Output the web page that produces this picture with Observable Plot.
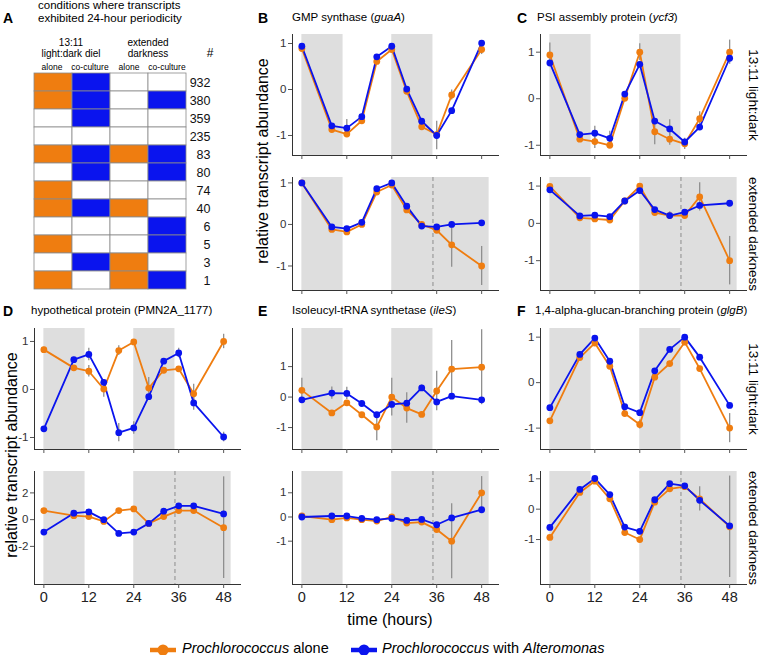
<!DOCTYPE html>
<html><head><meta charset="utf-8">
<script src="https://cdn.jsdelivr.net/npm/d3@7"></script>
<script src="https://cdn.jsdelivr.net/npm/@observablehq/plot@0.6"></script>
<style>
body{margin:0;background:#fff;font-family:"Liberation Sans",Arial,Helvetica,sans-serif;}
#fig{position:relative;width:760px;height:655px;overflow:hidden;background:#fff;color:#000}
.abs{position:absolute;white-space:nowrap;line-height:1}
.c{transform:translate(-50%,-50%)}
.rl{transform:translate(-50%,-50%) rotate(-90deg)}
.rr{transform:translate(-50%,-50%) rotate(90deg)}
.lt{font-weight:bold;font-size:14px}
.ti{font-size:11.5px}
</style></head><body><div id="fig"></div>
<script>
// ---------------- DATA ----------------
const hours = [0, 8, 12, 16, 20, 24, 28, 32, 36, 40, 48];
const darkLD = [[0, 11], [24, 35]];          // dark periods, 13:11 light:dark
const darkED = [[0, 11], [24, 50]];          // dark periods, extended darkness
const extendedDarkStart = 35;                // dashed line
const xTicks = [0, 12, 24, 36, 48];

// Panel A table
const tableColumns = ["LD alone", "LD co-culture", "ED alone", "ED co-culture"];
const tableColumnKind = ["alone", "co", "alone", "co"];
const tableCounts = [932, 380, 359, 235, 83, 80, 74, 40, 6, 5, 3, 1];
const tablePatterns = ["1100", "1101", "0100", "0000", "1111", "0101", "1000", "1110", "0001", "1001", "0110", "1011"];

// B: GMP synthase (guaA)
const guaA_LD_alone    = [0.89, -0.87, -0.97, -0.68, 0.61, 0.87, -0.04, -0.81, -0.98, -0.12, 0.87];
const guaA_LD_alone_se = [0.05, 0.05, 0.05, 0.05, 0.05, 0.05, 0.05, 0.08, 0.05, 0.11, 0.11];
const guaA_LD_co       = [0.94, -0.79, -0.84, -0.59, 0.71, 0.94, 0.01, -0.69, -1.0, -0.46, 1.01];
const guaA_LD_co_se    = [0.05, 0.05, 0.19, 0.05, 0.05, 0.05, 0.05, 0.05, 0.31, 0.05, 0.05];
const guaA_ED_alone    = [1.0, -0.12, -0.18, 0.0, 0.78, 0.95, 0.35, 0.0, -0.14, -0.49, -1.0];
const guaA_ED_alone_se = [0.05, 0.05, 0.05, 0.05, 0.05, 0.05, 0.05, 0.05, 0.08, 0.54, 0.47];
const guaA_ED_co       = [1.0, -0.06, -0.1, 0.05, 0.86, 1.0, 0.44, -0.04, -0.06, 0.0, 0.04];
const guaA_ED_co_se    = [0.05, 0.05, 0.05, 0.05, 0.05, 0.05, 0.05, 0.05, 0.05, 0.05, 0.05];

// C: PSI assembly protein (ycf3)
const ycf3_LD_alone    = [0.94, -0.87, -0.92, -1.0, 0.01, 1.0, -0.71, -0.87, -0.97, -0.43, 1.0];
const ycf3_LD_alone_se = [0.26, 0.05, 0.15, 0.05, 0.05, 0.18, 0.28, 0.13, 0.12, 0.15, 0.26];
const ycf3_LD_co       = [0.77, -0.77, -0.74, -0.85, 0.10, 0.74, -0.48, -0.65, -0.93, -0.61, 0.87];
const ycf3_LD_co_se    = [0.05, 0.05, 0.15, 0.15, 0.05, 0.05, 0.05, 0.2, 0.05, 0.05, 0.05];
const ycf3_ED_alone    = [0.99, 0.15, 0.12, 0.09, 0.6, 1.0, 0.29, 0.21, 0.21, 0.71, -1.0];
const ycf3_ED_alone_se = [0.05, 0.05, 0.05, 0.05, 0.05, 0.05, 0.05, 0.1, 0.05, 0.38, 0.65];
const ycf3_ED_co       = [0.9, 0.2, 0.22, 0.18, 0.6, 0.88, 0.37, 0.21, 0.3, 0.48, 0.54];
const ycf3_ED_co_se    = [0.05, 0.05, 0.05, 0.05, 0.05, 0.05, 0.05, 0.05, 0.05, 0.05, 0.05];

// D: hypothetical protein (PMN2A_1177)
const hyp_LD_alone    = [0.83, 0.45, 0.38, 0.01, 0.81, 0.99, 0.03, 0.4, 0.43, -0.09, 1.0];
const hyp_LD_alone_se = [0.05, 0.05, 0.12, 0.17, 0.1, 0.05, 0.22, 0.05, 0.05, 0.2, 0.15];
const hyp_LD_co       = [-0.82, 0.62, 0.73, 0.15, -0.9, -0.8, -0.15, 0.59, 0.76, -0.28, -0.99];
const hyp_LD_co_se    = [0.05, 0.05, 0.13, 0.05, 0.19, 0.13, 0.05, 0.05, 0.1, 0.15, 0.1];
const hyp_ED_alone    = [0.68, 0.3, 0.23, -0.13, 0.68, 0.8, -0.28, 0.23, 0.68, 0.68, -0.6];
const hyp_ED_alone_se = [0.1, 0.1, 0.1, 0.1, 0.1, 0.1, 0.1, 0.1, 0.1, 0.1, 3.8];
const hyp_ED_co       = [-0.93, 0.48, 0.58, 0.0, -1.03, -0.93, -0.28, 0.63, 1.03, 1.03, 0.43];
const hyp_ED_co_se    = [0.1, 0.1, 0.1, 0.1, 0.1, 0.1, 0.1, 0.1, 0.1, 0.1, 0.1];

// E: Isoleucyl-tRNA synthetase (ileS)
const ileS_LD_alone    = [0.22, -0.52, -0.19, -0.58, -0.98, 0.0, -0.36, -0.57, 0.2, 0.92, 0.98];
const ileS_LD_alone_se = [0.4, 0.05, 0.05, 0.05, 0.45, 0.62, 0.5, 0.05, 0.65, 0.94, 1.23];
const ileS_LD_co       = [-0.09, 0.13, 0.12, -0.21, -0.58, -0.24, -0.2, 0.3, -0.16, 0.03, -0.09];
const ileS_LD_co_se    = [0.05, 0.2, 0.2, 0.05, 0.05, 0.05, 0.05, 0.1, 0.05, 0.05, 0.05];
const ileS_ED_alone    = [0.04, -0.11, -0.04, -0.11, -0.17, 0.0, -0.25, -0.21, -0.52, -1.0, 1.0];
const ileS_ED_alone_se = [0.05, 0.05, 0.05, 0.05, 0.05, 0.05, 0.05, 0.05, 0.05, 1.55, 0.67];
const ileS_ED_co       = [0.0, 0.04, 0.04, -0.06, -0.11, -0.06, -0.14, -0.1, -0.32, -0.04, 0.3];
const ileS_ED_co_se    = [0.05, 0.05, 0.05, 0.05, 0.05, 0.05, 0.05, 0.05, 0.05, 0.05, 0.05];

// F: 1,4-alpha-glucan-branching protein (glgB)
const glgB_LD_alone    = [-0.84, 0.55, 0.87, 0.36, -0.68, -0.92, 0.12, 0.42, 0.89, 0.31, -1.0];
const glgB_LD_alone_se = [0.05, 0.05, 0.05, 0.05, 0.05, 0.1, 0.05, 0.05, 0.05, 0.05, 0.32];
const glgB_LD_co       = [-0.55, 0.62, 0.98, 0.47, -0.53, -0.66, 0.26, 0.73, 1.0, 0.56, -0.5];
const glgB_LD_co_se    = [0.05, 0.05, 0.05, 0.05, 0.05, 0.05, 0.05, 0.05, 0.05, 0.05, 0.05];
const glgB_ED_alone    = [-0.93, 0.55, 0.92, 0.34, -0.77, -1.0, 0.23, 0.67, 0.74, 0.34, -0.58];
const glgB_ED_alone_se = [0.05, 0.05, 0.05, 0.05, 0.05, 0.05, 0.05, 0.05, 0.05, 0.4, 1.67];
const glgB_ED_co       = [-0.6, 0.65, 1.01, 0.48, -0.59, -0.73, 0.31, 0.84, 0.77, 0.29, -0.55];
const glgB_ED_co_se    = [0.05, 0.05, 0.05, 0.05, 0.05, 0.05, 0.05, 0.05, 0.05, 0.05, 0.05];

// ---------------- STYLE / LAYOUT ----------------
const ORANGE = "#ef7d10", BLUE = "#0a14ee", BAND = "#dedede";
const FONT = '"Liberation Sans", Arial, Helvetica, sans-serif';
const fig = document.getElementById("fig");

function place(node, left, top) {
  const d = document.createElement("div");
  d.className = "abs";
  d.style.left = left + "px"; d.style.top = top + "px";
  d.appendChild(node);
  fig.appendChild(d);
  return d;
}
function label(html, x, y, cls, style) {
  const d = document.createElement("div");
  d.className = "abs " + (cls || "");
  d.style.left = x + "px"; d.style.top = y + "px";
  if (style) Object.assign(d.style, style);
  d.innerHTML = html;
  fig.appendChild(d);
  return d;
}

function series(vals, se, group) {
  return hours.map((h, i) => ({h, v: vals[i], lo: vals[i] - se[i], hi: vals[i] + se[i], group}));
}

function panel(cfg) {
  const ML = 30, MR = 4, MT = 2, MB = cfg.xl ? 28 : 8;
  const A = series(cfg.a, cfg.as, "alone");
  const C = series(cfg.c, cfg.cs, "co");
  const chart = Plot.plot({
    width: (cfg.R - cfg.L) + ML + MR,
    height: (cfg.B - cfg.T) + MT + MB,
    marginLeft: ML, marginRight: MR, marginTop: MT, marginBottom: MB,
    x: {domain: [-2.5, 52.5], label: null},
    y: {domain: cfg.yd, label: null},
    style: {fontFamily: FONT, background: "transparent", overflow: "visible", color: "#333"},
    marks: [
      Plot.rect(cfg.bands, {x1: d => d[0], x2: d => d[1], fill: BAND}),
      cfg.dashed != null ? Plot.ruleX([cfg.dashed], {stroke: "#9a9a9a", strokeWidth: 1.2, strokeDasharray: "4,3"}) : null,
      Plot.ruleX(A.concat(C), {x: "h", y1: "lo", y2: "hi", stroke: "#8f8f8f", strokeWidth: 1.3}),
      Plot.line(A, {x: "h", y: "v", stroke: ORANGE, strokeWidth: 1.8}),
      Plot.line(C, {x: "h", y: "v", stroke: BLUE, strokeWidth: 1.8}),
      Plot.dot(A, {x: "h", y: "v", fill: ORANGE, r: 3.4}),
      Plot.dot(C, {x: "h", y: "v", fill: BLUE, r: 3.4}),
      Plot.frame({anchor: "bottom", stroke: "#333", strokeWidth: 1}),
      Plot.frame({anchor: "left", stroke: "#333", strokeWidth: 1}),
      Plot.axisY({ticks: cfg.yt, label: null, tickSize: 4, tickPadding: 2, fontSize: 11.5, tickFormat: d => String(d), stroke: "#555", fill: "#333"}),
      Plot.axisX({ticks: xTicks, label: null, tickSize: 4, tickPadding: 3, fontSize: 14.5, tickFormat: cfg.xl ? (d => String(d)) : (() => ""), stroke: "#555", fill: "#222"})
    ]
  });
  place(chart, cfg.L - ML, cfg.T - MT);
}

const colBD = {L: 292, R: 498}, colCF = {L: 539.6, R: 745.6}, colD = {L: 33.6, R: 239.6};
const rowTop1 = {T: 34, B: 155}, rowBot1 = {T: 177, B: 290};
const rowTop2 = {T: 328, B: 449}, rowBot2 = {T: 471, B: 584};
const t3 = [-1, 0, 1];

const panels = [
  {...colBD, ...rowTop1, yd: [-1.435, 1.196], yt: t3, bands: darkLD, a: guaA_LD_alone, as: guaA_LD_alone_se, c: guaA_LD_co, cs: guaA_LD_co_se},
  {...colBD, ...rowBot1, yd: [-1.59, 1.13], yt: t3, bands: darkED, dashed: extendedDarkStart, a: guaA_ED_alone, as: guaA_ED_alone_se, c: guaA_ED_co, cs: guaA_ED_co_se},
  {...colCF, ...rowTop1, yd: [-1.22, 1.38], yt: t3, bands: darkLD, a: ycf3_LD_alone, as: ycf3_LD_alone_se, c: ycf3_LD_co, cs: ycf3_LD_co_se},
  {...colCF, ...rowBot1, yd: [-1.80, 1.23], yt: t3, bands: darkED, dashed: extendedDarkStart, a: ycf3_ED_alone, as: ycf3_ED_alone_se, c: ycf3_ED_co, cs: ycf3_ED_co_se},
  {...colD, ...rowTop2, yd: [-1.25, 1.27], yt: t3, bands: darkLD, a: hyp_LD_alone, as: hyp_LD_alone_se, c: hyp_LD_co, cs: hyp_LD_co_se},
  {...colD, ...rowBot2, yd: [-4.85, 3.6], yt: [-2, 0, 2], bands: darkED, dashed: extendedDarkStart, xl: true, a: hyp_ED_alone, as: hyp_ED_alone_se, c: hyp_ED_co, cs: hyp_ED_co_se},
  {...colBD, ...rowTop2, yd: [-1.72, 2.25], yt: t3, bands: darkLD, a: ileS_LD_alone, as: ileS_LD_alone_se, c: ileS_LD_co, cs: ileS_LD_co_se},
  {...colBD, ...rowBot2, yd: [-2.79, 1.88], yt: t3, bands: darkED, dashed: extendedDarkStart, xl: true, a: ileS_ED_alone, as: ileS_ED_alone_se, c: ileS_ED_co, cs: ileS_ED_co_se},
  {...colCF, ...rowTop2, yd: [-1.47, 1.19], yt: t3, bands: darkLD, a: glgB_LD_alone, as: glgB_LD_alone_se, c: glgB_LD_co, cs: glgB_LD_co_se},
  {...colCF, ...rowBot2, yd: [-2.48, 1.24], yt: t3, bands: darkED, dashed: extendedDarkStart, xl: true, a: glgB_ED_alone, as: glgB_ED_alone_se, c: glgB_ED_co, cs: glgB_ED_co_se}
];
panels.forEach(panel);

// ---------------- PANEL A TABLE ----------------
(function () {
  const cells = [];
  tablePatterns.forEach((p, r) => {
    tableColumns.forEach((col, c) => {
      const on = p[c] === "1";
      cells.push({row: r, col, fill: on ? (tableColumnKind[c] === "alone" ? ORANGE : BLUE) : "white"});
    });
  });
  const rows = tableCounts.map((n, r) => ({row: r, n}));
  const ML = 1, MR = 46, MT = 1, MB = 1;
  const chart = Plot.plot({
    width: 155 + ML + MR, height: 217 + MT + MB,
    marginLeft: ML, marginRight: MR, marginTop: MT, marginBottom: MB,
    x: {domain: tableColumns, padding: 0, axis: null},
    y: {domain: d3.range(tableCounts.length), padding: 0, axis: null},
    color: {type: "identity"},
    style: {fontFamily: FONT, background: "transparent", overflow: "visible"},
    marks: [
      Plot.cell(cells, {x: "col", y: "row", fill: "fill", stroke: "#8a8a8a", strokeWidth: 0.8}),
      Plot.text(rows, {y: "row", text: d => String(d.n), frameAnchor: "right", dx: 23, fontSize: 12.5, fill: "#111"})
    ]
  });
  place(chart, 32 - ML, 72 - MT);
})();

// ---------------- TEXT ----------------
label("A", 3, 11, "lt");
label("B", 258, 11, "lt");
label("C", 517, 11, "lt");
label("D", 3, 304, "lt");
label("E", 258, 304, "lt");
label("F", 517, 304, "lt");

label("conditions where transcripts", 38, 0, "ti");
label("exhibited 24-hour periodicity", 38, 12.5, "ti");
label("13:11", 71, 43, "c", {fontSize: "10px"});
label("light:dark diel", 71, 54, "c", {fontSize: "10px"});
label("extended", 148, 43, "c", {fontSize: "10px"});
label("darkness", 148, 54, "c", {fontSize: "10px"});
label("alone", 52, 67, "c", {fontSize: "8.5px"});
label("co-culture", 90, 67, "c", {fontSize: "8.5px"});
label("alone", 129, 67, "c", {fontSize: "8.5px"});
label("co-culture", 167, 67, "c", {fontSize: "8.5px"});
label("#", 210, 53, "c", {fontSize: "12px"});

label("GMP synthase (<i>guaA</i>)", 292, 12, "ti");
label("PSI assembly protein (<i>ycf3</i>)", 537, 12, "ti");
label("hypothetical protein (PMN2A_1177)", 31, 305, "ti");
label("Isoleucyl-tRNA synthetase (<i>ileS</i>)", 292, 305, "ti");
label("1,4-alpha-glucan-branching protein (<i>glgB</i>)", 535, 305, "ti");

label("relative transcript abundance", 263, 161, "rl", {fontSize: "16px"});
label("relative transcript abundance", 12, 455, "rl", {fontSize: "16px"});

label("13:11 light:dark", 753, 94.5, "rr", {fontSize: "13.5px"});
label("extended darkness", 753, 233.5, "rr", {fontSize: "13.5px"});
label("13:11 light:dark", 753, 388.5, "rr", {fontSize: "13.5px"});
label("extended darkness", 753, 527.5, "rr", {fontSize: "13.5px"});

label("time (hours)", 390, 620, "c", {fontSize: "16px"});

function key(color) {
  return `<svg width="28" height="14" style="vertical-align:middle"><line x1="1" x2="27" y1="7" y2="7" stroke="${color}" stroke-width="4.5"/><circle cx="14" cy="7" r="5.5" fill="${color}"/></svg>`;
}
label(key(ORANGE), 149, 641, "");
label("<i>Prochlorococcus</i> alone", 182, 648, "", {fontSize: "14.5px", transform: "translateY(-50%)"});
label(key(BLUE), 350, 641, "");
label("<i>Prochlorococcus</i> with <i>Alteromonas</i>", 382, 648, "", {fontSize: "14.5px", transform: "translateY(-50%)"});
</script>
</body></html>
